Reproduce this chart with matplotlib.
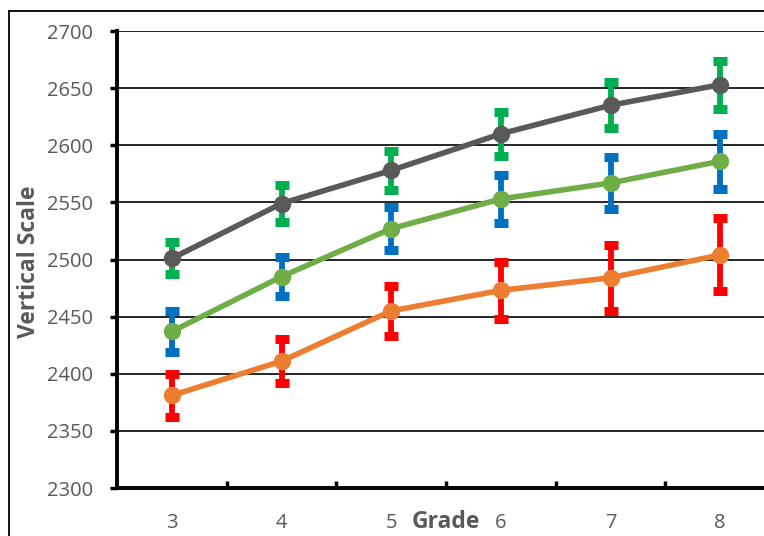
import numpy as np
import matplotlib
matplotlib.use("Agg")
import matplotlib.pyplot as plt
from matplotlib.lines import Line2D

plt.rcParams['font.family'] = ['Open Sans', 'DejaVu Sans']

grades = [3, 4, 5, 6, 7, 8]

# top series (dark gray line, green error bars)
top_mean = [2501, 2549, 2578, 2610, 2635, 2653]
top_err = [14, 16, 17, 19, 20, 21]

# middle series (green line, blue error bars)
mid_mean = [2437, 2485, 2527, 2553, 2567, 2586]
mid_err = [18, 17, 19, 21, 23, 24]

# bottom series (orange line, red error bars)
low_mean = [2381, 2411, 2455, 2473, 2484, 2504]
low_err = [19, 19, 22, 25, 29, 32]

y_ticks = [2300, 2350, 2400, 2450, 2500, 2550, 2600, 2650, 2700]

series = [
    (top_mean, top_err, '#595959', '#00B050'),
    (mid_mean, mid_err, '#70AD47', '#0070C0'),
    (low_mean, low_err, '#ED7D31', '#FF0000'),
]

W, H = 764, 536
fig = plt.figure(figsize=(W / 100, H / 100), dpi=100)
ax = fig.add_axes([117 / W, (H - 488) / H, 658 / W, 457 / H])

for mean, err, lc, ec in series:
    ax.errorbar(grades, mean, yerr=err, fmt='none', ecolor=ec,
                elinewidth=4.2, capsize=4.8, capthick=6.5, zorder=3)
for mean, err, lc, ec in series:
    ax.plot(grades, mean, color=lc, lw=4.0, marker='o', ms=11.5,
            solid_capstyle='round', zorder=4)

ax.set_xlim(2.5, 8.5)
ax.set_ylim(2300, 2700)
ax.set_yticks(y_ticks)
ax.set_xticks(grades)
ax.set_xticks(np.arange(3.5, 8.5, 1.0), minor=True)
ax.yaxis.grid(True, color='black', lw=1.2, zorder=1)
ax.set_axisbelow(True)

for side in ['top', 'right']:
    ax.spines[side].set_visible(False)
for side in ['left', 'bottom']:
    ax.spines[side].set_linewidth(2.8)
    ax.spines[side].set_zorder(5)

ax.tick_params(axis='y', direction='out', length=5, width=2.5,
               labelsize=14.5, labelcolor='#595959', pad=12)
ax.tick_params(axis='x', which='major', length=0, labelsize=14.5,
               labelcolor='#595959', pad=18)
ax.tick_params(axis='x', which='minor', direction='in', length=5, width=2.5)

fig.text(446 / W, (H - 522) / H, 'Grade', ha='center', va='center',
         fontsize=16.5, fontweight='bold', color='#595959')
fig.text(29 / W, (H - 262) / H, 'Vertical Scale', ha='center', va='center',
         rotation=90, fontsize=16.5, fontweight='bold', color='#595959')

# outer border of the chart area (cropped at right and bottom)
fig.add_artist(Line2D([8.5 / W, 8.5 / W], [0, (H - 10.5) / H],
                      transform=fig.transFigure, color='black', lw=1.3))
fig.add_artist(Line2D([8.5 / W, 1], [(H - 10.5) / H, (H - 10.5) / H],
                      transform=fig.transFigure, color='black', lw=1.3))

fig.savefig('out.png', dpi=100)
